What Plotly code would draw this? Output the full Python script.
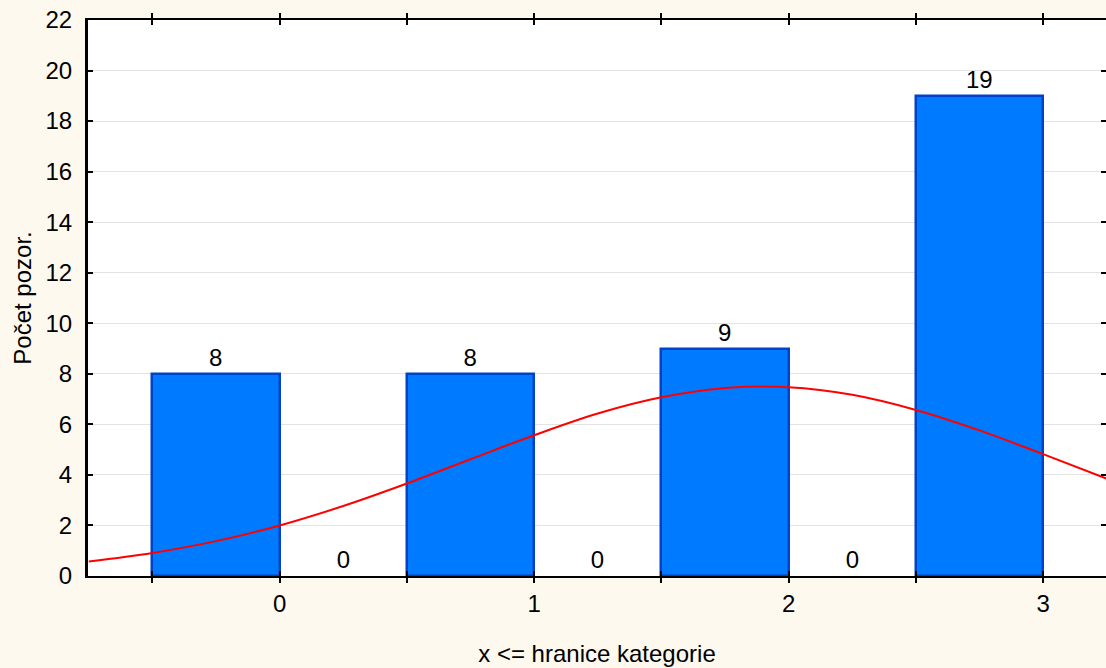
import plotly.graph_objects as go

# Histogram data: upper category boundaries (x <= boundary) and counts
bin_upper = [0.0, 0.5, 1.0, 1.5, 2.0, 2.5, 3.0]
counts = [8, 0, 8, 0, 9, 0, 19]
bin_width = 0.5

# Fitted normal curve
curve_x = [-0.75, -0.5, -0.25, 0.0, 0.25, 0.5, 0.75, 1.0, 1.25, 1.5, 1.75,
           2.0, 2.25, 2.5, 2.75, 3.0, 3.25]
curve_y = [0.57, 0.91, 1.38, 2.0, 2.77, 3.66, 4.62, 5.57, 6.43, 7.07, 7.44,
           7.47, 7.17, 6.57, 5.76, 4.82, 3.85]

x_tickvals = [-0.5, 0.0, 0.5, 1.0, 1.5, 2.0, 2.5, 3.0]
x_ticktext = ["", "0", "", "1", "", "2", "", "3"]
y_tickvals = [0, 2, 4, 6, 8, 10, 12, 14, 16, 18, 20, 22]

FONT = "Liberation Sans, Arial, sans-serif"
FS = 24

fig = go.Figure()
fig.add_trace(go.Bar(
    x=bin_upper, y=counts, width=bin_width, offset=-bin_width,
    marker=dict(color="#007AFF",
                line=dict(color="#0042C8", width=[2.5 if c > 0 else 0 for c in counts])),
    text=[str(c) for c in counts], textposition="outside",
    textfont=dict(family=FONT, size=FS, color="black"),
    cliponaxis=False, showlegend=False,
))
fig.add_trace(go.Scatter(
    x=curve_x, y=curve_y, mode="lines", line=dict(color="#FF0000", width=2, shape="spline"),
    yaxis="y2", showlegend=False, hoverinfo="skip",
))

fig.update_layout(
    width=1106, height=668,
    margin=dict(l=88, r=0, t=20, b=92),
    paper_bgcolor="#FDF9EF", plot_bgcolor="white",
    font=dict(family=FONT, size=FS, color="black"),
    xaxis=dict(
        range=[-0.753, 3.247], tickvals=x_tickvals, ticktext=x_ticktext,
        ticks="inside", ticklen=5, tickwidth=2, tickcolor="black",
        showline=True, linewidth=2, linecolor="black", mirror="allticks",
        showgrid=False, zeroline=False, ticklabelstandoff=5,
        title=dict(text="x <= hranice kategorie", standoff=29,
                   font=dict(family=FONT, size=FS)),
        tickfont=dict(family=FONT, size=FS),
    ),
    yaxis=dict(
        range=[0, 22], tickvals=y_tickvals,
        ticks="inside", ticklen=5, tickwidth=2, tickcolor="black",
        showline=True, linewidth=3, linecolor="black",
        showgrid=True, gridcolor="#E3E3E3", gridwidth=1, zeroline=False,
        ticklabelstandoff=8,
        title=dict(text="Počet pozor.", standoff=8, font=dict(family=FONT, size=FS)),
        tickfont=dict(family=FONT, size=FS),
    ),
    yaxis2=dict(
        overlaying="y", side="right", matches="y", range=[0, 22],
        tickvals=y_tickvals, showticklabels=False,
        ticks="inside", ticklen=5, tickwidth=2, tickcolor="black",
        showline=False, showgrid=False, zeroline=False,
    ),
    bargap=0,
)

fig.write_html("out.html")
